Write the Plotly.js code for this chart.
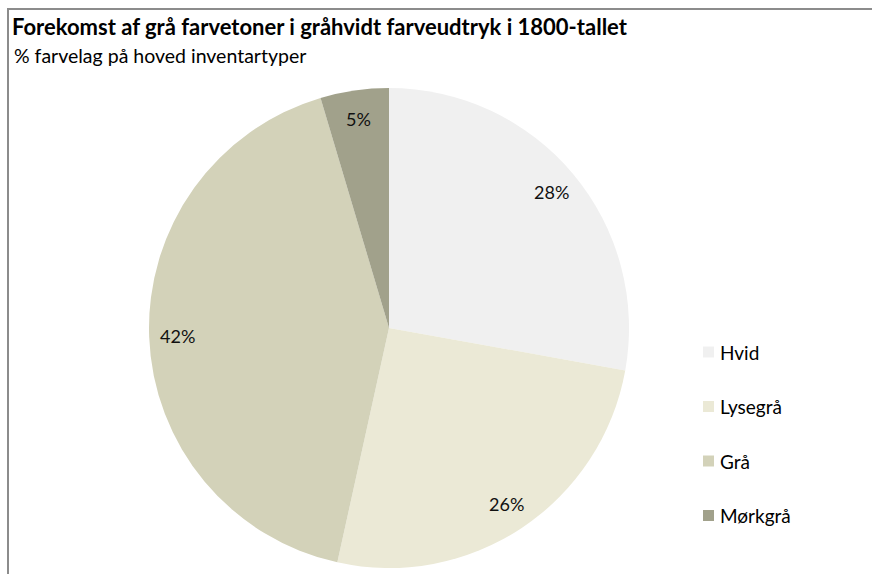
<!DOCTYPE html>
<html>
<head>
<meta charset="utf-8">
<script src="https://cdn.plot.ly/plotly-3.0.1.min.js"></script>
<style>
  html, body { margin: 0; padding: 0; background: #fff; overflow: hidden; }
  #frame { position: absolute; left: 7px; top: 8px; width: 900px; height: 600px; border: 2px solid #8c8c8c; box-sizing: border-box; }
  #chart { position: absolute; left: 0; top: 0; width: 872px; height: 574px; }
</style>
</head>
<body>
<div id="frame"></div>
<div id="chart"></div>
<script>
const labels = ["Hvid", "Lysegrå", "Grå", "Mørkgrå"];
const values = [27.8, 25.6, 41.9, 4.6];
const colors = ["#f0f0f0", "#ebe9d6", "#d3d2b9", "#a1a18b"];
const titleText = "Forekomst af grå farvetoner i gråhvidt farveudtryk i 1800-tallet";
const subtitleText = "% farvelag på hoved inventartyper";

const W = 872, H = 574;
const cx = 389, cy = 328, R = 240;
const fontFam = "Lato, 'Open Sans', sans-serif";

const total = values.reduce((a, b) => a + b, 0);
const annotations = [];
// slice labels at 0.88 R, computed from values
let cum = 0;
values.forEach((v, i) => {
  const mid = (cum + v / 2) / total * 2 * Math.PI;
  cum += v;
  const px = cx + 0.88 * R * Math.sin(mid);
  const py = cy - 0.88 * R * Math.cos(mid);
  annotations.push({
    xref: "paper", yref: "paper", x: px / W, y: 1 - py / H,
    xanchor: "center", yanchor: "middle", showarrow: false,
    text: Math.round(v / total * 100) + "%",
    font: { family: fontFam, size: 18, color: "#111" }
  });
});
// subtitle
annotations.push({
  xref: "paper", yref: "paper", x: 12 / W, y: 1 - 56 / H,
  xanchor: "left", yanchor: "middle", showarrow: false,
  text: subtitleText, font: { family: fontFam, size: 19.5, color: "#000" }
});
// manual legend
const shapes = [];
labels.forEach((lab, i) => {
  const ly = 352 + i * 54.5;
  shapes.push({
    type: "rect", xref: "paper", yref: "paper",
    x0: 703 / W, x1: 714 / W, y0: 1 - (ly + 5.5) / H, y1: 1 - (ly - 5.5) / H,
    fillcolor: colors[i], line: { width: 0 }
  });
  annotations.push({
    xref: "paper", yref: "paper", x: 718 / W, y: 1 - ly / H,
    xanchor: "left", yanchor: "middle", showarrow: false,
    text: lab, font: { family: fontFam, size: 19, color: "#000" }
  });
});

const data = [{
  type: "pie",
  labels: labels,
  values: values,
  sort: false,
  direction: "clockwise",
  rotation: 0,
  marker: { colors: colors, line: { width: 0 } },
  textinfo: "none",
  hoverinfo: "label+percent",
  domain: { x: [(cx - R) / W, (cx + R) / W], y: [1 - (cy + R) / H, 1 - (cy - R) / H] },
  showlegend: false
}];

const layout = {
  width: W, height: H,
  margin: { l: 0, r: 0, t: 0, b: 0 },
  paper_bgcolor: "rgba(0,0,0,0)",
  plot_bgcolor: "rgba(0,0,0,0)",
  title: {
    text: "<b>" + titleText + "</b>",
    x: 12 / W, xanchor: "left", xref: "container",
    y: 1 - 27 / H, yanchor: "middle", yref: "container",
    font: { family: fontFam, size: 22, color: "#000" }
  },
  annotations: annotations,
  shapes: shapes,
  showlegend: false
};

Plotly.newPlot("chart", data, layout, { staticPlot: true });
</script>
</body>
</html>
